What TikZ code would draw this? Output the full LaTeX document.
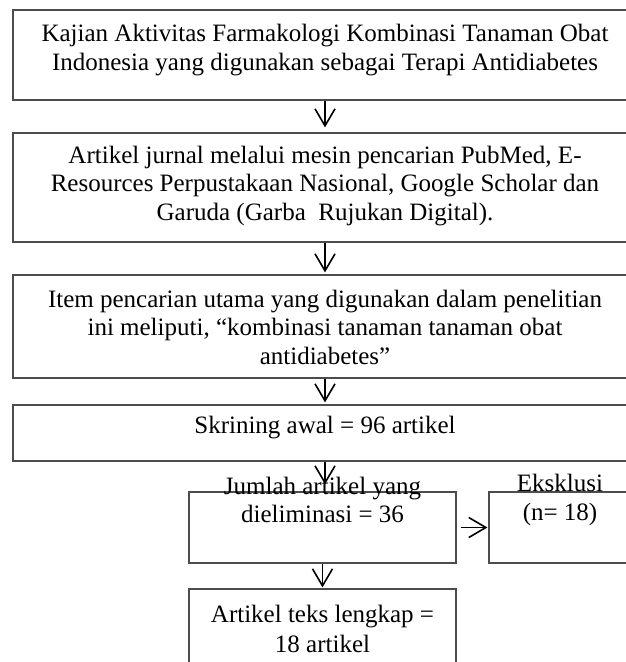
\documentclass[tikz,border=0pt]{standalone}
\usepackage{fontspec}
\setmainfont{Liberation Serif}
\usetikzlibrary{arrows.meta}
\usetikzlibrary{positioning}

\tikzset{
  box/.style={draw=black!70, line width=1.2pt, rectangle, inner sep=0pt},
  txt/.style={align=center, inner sep=0pt, font=\fontsize{25}{28.5}\selectfont},
  flow/.style={-{Straight Barb[length=17pt,width=20pt,line width=1.6pt]}, line width=1.6pt},
}

\begin{document}
\begin{tikzpicture}[x=1pt, y=-1pt]
        \useasboundingbox (0,0) rectangle (626,662);
        % Draw the boxes
        \node[box, minimum width=624pt, minimum height=90pt] (kajian) at (325,55) {};
        \node[box, minimum width=624pt, minimum height=109pt] (jurnal) at (325,187.5) {};
        \node[box, minimum width=624pt, minimum height=103pt] (item) at (325,326.5) {};
        \node[box, minimum width=624pt, minimum height=56pt] (skrining) at (325,433) {};
        \node[box, minimum width=267pt, minimum height=71pt] (jumlah) at (322.5,527.5) {};
        \node[box, minimum width=142pt, minimum height=71pt] (eksklusi) at (560,527.5) {};
        \node[box, minimum width=267pt, minimum height=101pt] (lengkap) at (322.5,639.5) {};
        % Add the texts
        \node[txt] (kajianT) at (325,50) {Kajian Aktivitas Farmakologi Kombinasi Tanaman Obat\\Indonesia yang digunakan sebagai Terapi Antidiabetes};
        \node[txt] (jurnalT) at (325,186) {Artikel jurnal melalui mesin pencarian PubMed, E-\\Resources Perpustakaan Nasional, Google Scholar dan\\Garuda (Garba\ \ Rujukan Digital).};
        \node[txt] (itemT) at (325,327) {Item pencarian utama yang digunakan dalam penelitian\\ini meliputi, ``kombinasi tanaman tanaman obat\\antidiabetes''};
        \node[txt] (skriningT) at (325,428) {Skrining awal = 96 artikel};
        \node[txt] (jumlahT) at (322.5,500) {Jumlah artikel yang\\dieliminasi = 36};
        \node[txt] (eksklusiT) at (560,500) {Eksklusi\\(n= 18)};
        \node[txt] (lengkapT) at (322.5,629) {Artikel teks lengkap =\\[1pt]18 artikel};
        % Connect the boxes
        \draw[flow, shorten >=5pt] (kajian.south) -- (jurnal.north);
        \draw[flow, shorten >=2pt] (jurnal.south) -- (item.north);
        \draw[flow, shorten >=2pt] (item.south) -- (skrining.north);
        \draw[flow, shorten >=7pt] (skrining.south) -- (skrining.south |- jumlah.north);
        \draw[flow, shorten >=1pt] (jumlah.south) -- (lengkap.north);
        \draw[flow, shorten <=4pt, shorten >=1pt] (jumlah.east) -- (eksklusi.west);
      \end{tikzpicture}
\end{document}
